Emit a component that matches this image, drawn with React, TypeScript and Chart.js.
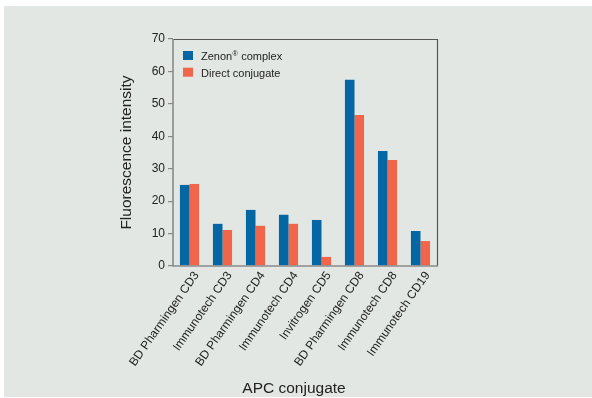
import React, { useEffect, useRef } from 'react';
import { Chart, registerables } from 'chart.js';

Chart.register(...registerables);

const categories = [
  'BD Pharmingen CD3',
  'Immunotech CD3',
  'BD Pharmingen CD4',
  'Immunotech CD4',
  'Invitrogen CD5',
  'BD Pharmingen CD8',
  'Immunotech CD8',
  'Immunotech CD19',
];
const zenonValues = [25.0, 13.0, 17.3, 15.8, 14.2, 57.4, 35.5, 10.8];
const directValues = [25.3, 11.1, 12.4, 13.0, 2.8, 46.6, 32.7, 7.7];
const seriesLabels = ['Zenon® complex', 'Direct conjugate'];
const seriesColors = ['#0467a3', '#f1664a'];
const yMin = 0;
const yMax = 70;
const yStep = 10;
const yTitle = 'Fluorescence intensity';
const xTitle = 'APC conjugate';

const FONT = '"Liberation Sans", Arial, Helvetica, sans-serif';

const framePlugin = {
  id: 'frame',
  afterDatasetsDraw(chart: any) {
    const { ctx, chartArea } = chart;
    const { left, top, right, bottom } = chartArea;
    ctx.save();
    ctx.strokeStyle = '#555';
    ctx.lineWidth = 1.2;
    ctx.beginPath();
    ctx.moveTo(left, top + 0.5);
    ctx.lineTo(right + 0.5, top + 0.5);
    ctx.lineTo(right + 0.5, bottom);
    ctx.stroke();
    ctx.strokeStyle = '#8a8a8a';
    ctx.lineWidth = 1.6;
    ctx.beginPath();
    ctx.moveTo(left, top);
    ctx.lineTo(left, bottom);
    ctx.lineTo(right + 1, bottom);
    ctx.stroke();
    ctx.restore();
  },
};

const legendPlugin = {
  id: 'innerLegend',
  afterDraw(chart: any) {
    const { ctx, chartArea } = chart;
    const x0 = chartArea.left + 10;
    const y0 = chartArea.top + 12;
    const rowH = 16.7;
    ctx.save();
    chart.data.datasets.forEach((ds: any, i: number) => {
      const y = y0 + i * rowH;
      ctx.fillStyle = ds.backgroundColor;
      ctx.fillRect(x0, y, 10, 9);
      ctx.fillStyle = '#222';
      ctx.textBaseline = 'alphabetic';
      ctx.textAlign = 'left';
      const baseY = y + 9.3;
      let tx = x0 + 18;
      const parts = String(ds.label).split('®');
      parts.forEach((p: string, j: number) => {
        ctx.font = `11px ${FONT}`;
        ctx.fillText(p, tx, baseY);
        tx += ctx.measureText(p).width;
        if (j < parts.length - 1) {
          ctx.font = `7px ${FONT}`;
          ctx.fillText('®', tx + 0.3, baseY - 4);
          tx += ctx.measureText('®').width + 0.8;
        }
      });
    });
    ctx.restore();
  },
};

const xTitlePlugin = {
  id: 'xTitle',
  afterDraw(chart: any) {
    const { ctx } = chart;
    ctx.save();
    ctx.font = `15.5px ${FONT}`;
    ctx.fillStyle = '#222';
    ctx.textAlign = 'center';
    ctx.textBaseline = 'alphabetic';
    ctx.fillText(xTitle, 294, 393);
    ctx.restore();
  },
};

export default function App() {
  const canvasRef = useRef<HTMLCanvasElement | null>(null);

  useEffect(() => {
    if (!canvasRef.current) return;
    const chart = new Chart(canvasRef.current, {
      type: 'bar',
      data: {
        labels: categories,
        datasets: [
          {
            label: seriesLabels[0],
            data: zenonValues,
            backgroundColor: seriesColors[0],
            borderWidth: 0,
          },
          {
            label: seriesLabels[1],
            data: directValues,
            backgroundColor: seriesColors[1],
            borderWidth: 0,
          },
        ],
      },
      options: {
        responsive: false,
        animation: false,
        devicePixelRatio: 1,
        layout: { padding: { left: 100, top: 39, right: 155, bottom: 0 } },
        datasets: {
          bar: { categoryPercentage: 0.58, barPercentage: 1.0 },
        },
        plugins: {
          legend: { display: false },
          tooltip: { enabled: false },
          title: { display: false },
        },
        scales: {
          x: {
            grid: { display: false, drawTicks: false },
            border: { display: false },
            ticks: {
              autoSkip: false,
              maxRotation: 55,
              minRotation: 55,
              padding: 3,
              labelOffset: 7,
              color: '#222',
              font: { family: FONT, size: 12 },
            },
            afterFit(scale: any) {
              scale.height = 132;
            },
          },
          y: {
            min: yMin,
            max: yMax,
            grid: {
              drawOnChartArea: false,
              drawTicks: true,
              tickLength: 5,
              color: '#8a8a8a',
              lineWidth: 1.2,
            },
            border: { display: false },
            ticks: {
              stepSize: yStep,
              padding: 3,
              color: '#222',
              font: { family: FONT, size: 12 },
            },
            title: {
              display: true,
              text: yTitle,
              color: '#222',
              font: { family: FONT, size: 15.5 },
              padding: { top: 17, bottom: 0 },
            },
            afterFit(scale: any) {
              scale.width = 73;
            },
          },
        },
      },
      plugins: [framePlugin, legendPlugin, xTitlePlugin],
    });
    return () => chart.destroy();
  }, []);

  return (
    <div style={{ position: 'absolute', left: 0, top: 0, width: 592, height: 398, background: '#ffffff' }}>
      <div style={{ position: 'absolute', left: 4, top: 6, width: 588, height: 391, background: '#e2e7e3' }} />
      <canvas
        ref={canvasRef}
        width={592}
        height={398}
        style={{ position: 'absolute', left: 0, top: 0, width: 592, height: 398 }}
      />
    </div>
  );
}
